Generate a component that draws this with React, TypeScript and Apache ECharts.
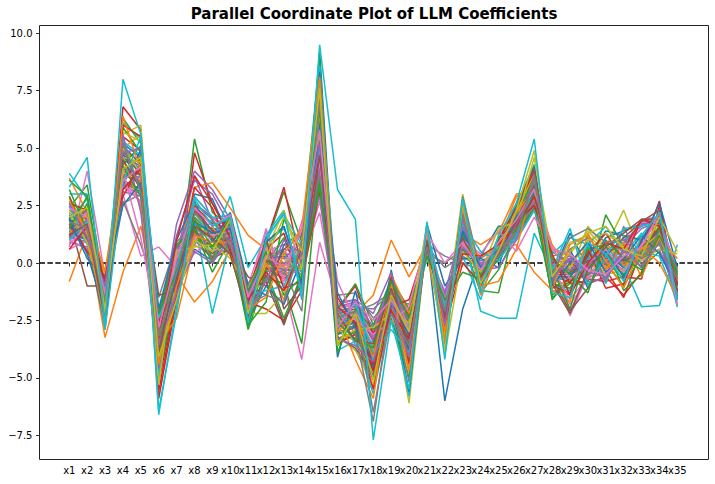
import { useEffect, useRef } from "react";
import * as echarts from "echarts";

const categories: string[] = [
  "x1", "x2", "x3", "x4", "x5", "x6", "x7", "x8", "x9", "x10",
  "x11", "x12", "x13", "x14", "x15", "x16", "x17", "x18", "x19", "x20",
  "x21", "x22", "x23", "x24", "x25", "x26", "x27", "x28", "x29", "x30",
  "x31", "x32", "x33", "x34", "x35",
];

const yMin = -7.5;
const yMax = 10;
const yStep = 2.5;

const palette = [
  "#1f77b4", "#ff7f0e", "#2ca02c", "#d62728", "#9467bd",
  "#8c564b", "#e377c2", "#7f7f7f", "#bcbd22", "#17becf",
];

// Each row: one model's coefficients for x1..x35
const coefRows: number[][] = [
  [2.2, 1.5, -2.1, 5.2, 4.6, -4.8, -0.8, 1.9, 1.3, 1.5, -2.0, 0.3, 0.5, -0.6, 9.2, -3.0, -2.8, -4.6, -1.6, -5.7, 1.2, -3.0, 1.8, -0.7, 0.7, 1.9, 3.6, -0.6, -0.8, 0.3, 0.4, -0.2, 0.7, 1.5, -0.9],
  [-0.8, 1.3, -3.25, -0.4, 1.6, -2.2, 0.2, 1.1, 0.7, 0.9, -1.4, -0.2, -0.4, 0.1, 3.9, -2.1, -1.9, -3.2, -1.0, -2.4, 0.7, -1.9, 0.9, -0.2, 0.4, 1.2, 2.6, -0.1, -0.1, -0.2, 0.0, 0.2, 0.4, 1.0, -0.4],
  [2.4, 3.4, -1.2, 6.3, 5.2, -4.2, -1.0, 5.4, 2.2, 1.6, -2.6, 0.8, 3.1, 0.9, 8.9, -3.6, -2.9, -4.8, -1.4, -3.8, 1.3, -2.9, 1.9, -1.2, -1.3, 1.9, 3.5, -1.6, -0.6, 0.7, 0.5, -0.5, 0.6, 1.4, -1.3],
  [1.8, 2.0, -2.2, 6.8, 5.8, -5.9, -1.6, 4.8, 2.6, 1.3, -1.8, 0.9, 3.3, -0.2, 8.0, -3.3, -3.0, -5.4, -1.9, -4.1, 1.5, -3.6, 2.8, -1.0, 0.3, 2.3, 3.9, -0.8, -1.4, 0.5, -0.3, -1.5, 0.6, 2.7, -1.5],
  [1.4, 1.1, -1.4, 4.0, 3.7, -3.0, 1.7, 4.0, 3.2, 1.9, -1.5, 0.2, -0.5, -0.2, 4.6, -2.6, -2.4, -4.0, -1.3, -2.9, 1.0, -2.4, 1.5, -0.5, 0.6, 1.7, 3.2, -0.4, -0.2, 0.1, 0.4, 0.8, 1.8, 1.9, -0.8],
  [1.9, -1.0, -1.0, 3.6, 3.2, -2.5, 0.6, 1.3, 0.4, 1.1, -1.2, -0.8, -2.7, -0.4, 4.2, -2.2, -2.0, -3.4, -1.1, -2.6, 0.8, -2.0, 0.8, -0.2, 0.4, 1.4, 2.8, -0.2, -0.5, -0.1, 0.2, 0.1, 0.3, 1.0, -0.5],
  [0.7, 4.0, -0.6, 3.0, 0.3, 0.7, -0.2, 1.0, 0.8, 1.0, -1.3, 0.2, 0.5, 0.0, 3.4, -2.0, -1.8, -2.9, -0.9, -2.2, 0.6, -1.6, 0.7, -0.1, 0.3, 1.1, 2.5, 0.0, -2.3, -0.5, 0.3, 0.6, 1.9, 2.0, -0.6],
  [1.2, 0.9, -0.3, 2.7, 0.8, -1.5, 0.9, 1.8, 1.5, 1.3, -0.9, -0.1, -0.5, 0.7, 3.2, -1.4, -1.3, -2.4, -1.5, -1.8, 0.4, 0.0, 0.6, 0.2, 0.7, 1.3, 2.4, 0.3, 0.5, -0.6, -0.4, 0.2, 0.9, 1.1, -1.9],
  [2.8, 1.9, -1.8, 5.6, 6.0, -4.0, -0.6, 2.1, 1.8, 1.4, -2.1, 0.4, 0.2, -0.7, 7.0, -2.9, -2.6, -4.4, -1.7, -6.1, 1.1, -2.7, 3.0, -0.8, 0.8, 1.8, 3.7, -0.7, -0.4, 1.6, 0.7, 2.3, 0.3, 1.6, -1.1],
  [3.9, 2.8, -2.9, 6.1, 5.4, -6.6, -1.9, 2.6, 1.9, 2.1, -2.8, 0.7, 1.6, -1.0, 8.6, -3.8, -3.4, -5.7, -2.0, -5.8, 1.6, -3.9, 2.4, -1.1, 1.0, 2.5, 4.3, -1.0, -1.2, 0.6, 0.5, -0.6, 1.1, 2.0, -1.4],
  [1.5, 1.2, -1.9, 4.7, 4.2, -3.8, -0.4, 3.0, 2.8, 1.0, -1.6, -0.3, -0.2, -0.5, 5.5, -2.7, -2.5, -4.1, -1.2, -3.3, 1.0, -6.0, -2.0, 0.3, 1.6, 1.6, 3.1, -0.5, 1.3, -0.2, 1.1, 1.4, 1.7, 1.8, -1.0],
  [3.7, 2.2, -2.4, 4.9, 4.4, -4.5, -0.5, -1.7, -0.8, 0.6, -1.9, 0.1, -0.6, 0.2, 6.3, -3.1, -2.7, -4.9, -1.5, -3.5, 1.2, -2.6, 1.6, -0.6, 0.9, 2.9, 3.3, -0.3, 0.2, 0.5, -0.2, -0.3, 0.8, 1.3, -0.7],
  [1.1, 2.6, -1.3, 3.9, 3.5, -2.8, -0.1, 1.4, 0.6, 0.9, -2.9, -0.6, -0.9, -3.5, 4.4, -2.4, -2.2, -3.6, -1.0, -2.7, 0.7, -2.2, 1.0, -1.3, -0.3, 1.3, 2.9, -1.5, -0.9, -0.8, 2.1, 0.7, -0.2, 0.5, -0.8],
  [2.0, 1.7, -2.6, 5.5, 4.9, -5.2, -1.3, 2.4, 1.4, 1.7, -1.7, -2.0, -2.5, -1.2, 7.5, -3.5, -3.1, -5.1, -2.1, -4.3, 1.3, -3.1, 2.6, -0.9, 0.2, 2.1, 3.8, -1.1, -0.7, -0.9, -0.6, -1.4, -0.4, 2.5, -1.2],
  [1.6, 1.4, -1.1, 3.4, 3.0, -2.4, 1.2, 3.6, 3.0, 1.6, -1.1, 0.5, 0.8, 0.3, 3.8, -1.9, -1.7, -3.1, -0.8, -2.3, 0.6, -1.5, 0.5, 0.1, 0.4, 1.2, 2.6, 0.1, 0.2, -0.3, 0.6, 0.9, 1.7, 1.9, -0.3],
  [1.3, 1.0, -1.5, 4.1, 3.9, -3.3, -0.2, 1.2, 0.9, 1.2, -1.8, 0.0, -0.3, -0.3, 5.1, -2.6, -2.4, -3.9, -1.2, -3.1, 0.9, -2.3, 1.1, -0.4, 0.5, 1.5, 3.0, -0.3, -0.3, 0.0, 0.1, 0.0, 0.4, 1.2, -0.6],
  [1.0, 0.6, -2.3, 3.3, 2.7, -2.0, -0.9, 0.8, 0.3, 0.7, -1.0, 1.4, -1.0, -4.2, 0.9, -1.7, -1.6, -3.0, -1.4, -2.0, 0.3, -1.2, 0.2, 0.0, 0.3, 1.0, 2.3, 0.2, -2.1, -0.4, -0.3, 0.3, 0.1, 1.5, -0.3],
  [1.8, 1.3, -1.7, 2.6, 3.0, -3.1, -0.7, 2.0, 1.2, 0.9, -1.6, -0.4, -0.1, 0.5, 4.8, -2.3, -2.1, -1.8, -1.3, -2.5, 0.8, 0.3, 0.0, -0.3, 0.6, 1.5, 3.0, 0.6, 0.3, -0.2, 0.2, 0.5, 0.3, 1.3, -1.6],
  [2.5, 1.8, -0.5, 5.0, 5.6, -3.0, 0.3, 1.7, 1.1, 1.8, -2.2, -2.2, -1.3, 0.6, 6.0, -3.0, -3.4, -3.8, -2.5, -3.2, 1.0, -2.5, 1.4, -0.5, 0.9, 1.9, 3.4, -0.5, 0.9, 1.2, 0.5, -0.4, 0.2, 1.0, -0.9],
  [3.0, 3.0, -1.9, 5.3, 4.7, -4.6, -0.7, 2.2, 1.0, 2.9, -0.2, 1.1, 2.1, 0.8, 6.5, -2.8, -2.5, -4.3, -1.6, -3.6, 1.2, -3.0, 2.0, -0.5, 1.1, 2.0, 3.5, -0.8, -0.6, 0.8, 1.6, 0.4, 1.3, 0.8, -0.7],
  [2.1, 1.6, -2.0, 4.6, 4.1, -4.3, -0.5, 1.6, 1.5, 1.4, -1.9, 0.2, 0.3, -0.4, 8.3, -2.8, -2.6, -4.4, -1.4, -3.4, 1.1, -2.6, 1.5, -0.6, 0.6, 1.7, 3.3, -0.5, -0.5, 0.2, 0.3, -0.1, 0.6, 1.4, -0.8],
  [2.7, 2.1, -1.4, 4.4, 3.4, -3.6, 0.0, 3.3, 3.5, 2.4, 1.2, 0.6, 0.0, 0.4, 5.3, -2.7, -2.3, -4.0, -1.0, -3.0, 0.9, -2.4, 1.3, 0.8, 1.3, 3.0, 3.1, 0.8, -0.3, -0.6, -0.5, 0.3, 0.2, 1.2, -0.5],
  [3.6, 2.9, -2.3, 5.9, 4.8, -5.0, -1.1, 2.0, 0.2, 1.9, -2.3, 0.0, 1.1, -0.9, 7.4, -3.3, -3.0, -5.0, -1.8, -4.0, 1.3, -3.3, 2.1, -0.8, 0.8, 2.1, 3.7, -0.9, -1.1, 0.3, 0.1, -0.7, 0.5, 1.6, -1.2],
  [1.2, 2.4, -0.9, 3.8, 3.6, -2.6, 0.1, 1.0, 0.2, 0.6, -1.3, -0.2, -0.7, 0.0, 4.0, -2.0, -1.0, -3.1, -1.1, -2.3, 0.6, -1.8, 0.9, -0.2, 0.3, 1.3, 2.7, 0.0, 0.1, -0.7, -0.8, -0.6, -0.7, 2.2, -1.0],
  [0.9, 0.7, -1.2, 3.1, 2.9, -2.1, 0.5, 2.6, 2.0, 1.2, -0.9, 0.3, 0.6, 0.5, 3.5, -1.8, -1.6, -2.8, -0.7, -2.1, 0.5, -1.4, 0.6, 0.0, 0.3, 1.1, 2.4, 0.1, 0.0, 0.2, 0.5, 0.7, 1.5, 1.8, -0.4],
  [2.3, 1.9, -1.3, 5.1, 4.3, -4.1, -0.6, 1.7, 1.0, 1.5, -2.2, -0.5, -2.6, -0.7, 6.2, -3.1, -2.8, -4.5, -1.5, -3.7, 1.1, -2.8, 1.7, -0.7, 0.7, 1.9, 3.5, -0.6, -0.6, 0.4, 0.2, -0.3, 0.6, 1.5, -0.9],
  [1.5, 2.2, -2.7, 3.7, 2.6, -2.7, -1.5, 1.1, 0.5, 0.9, -1.5, 1.5, -0.8, -0.1, 2.7, -1.9, -1.8, -3.3, -1.0, -2.4, 0.6, -1.9, 0.8, -0.3, 0.5, 1.4, 2.8, -0.2, -1.8, -0.7, -0.1, 0.4, 1.8, 1.7, -0.5],
  [1.7, 1.4, -0.8, 4.2, 3.8, -3.4, -0.3, 1.5, 1.1, 1.2, -1.6, 0.1, 0.0, -0.2, 4.9, -2.5, -2.3, -3.7, -1.2, -3.0, 0.9, -2.2, 1.2, -0.4, 0.5, 1.6, 3.1, -0.3, -0.3, 0.0, 0.1, 0.0, 0.5, 1.2, -0.6],
  [2.9, 1.3, -2.0, 5.7, 5.3, -3.1, -0.9, 2.2, 1.2, 1.0, -1.9, 0.3, 0.4, -0.6, 6.6, -3.2, -3.8, -5.3, -1.9, -4.6, 1.4, -3.2, 2.5, -0.8, 0.8, 2.2, 3.9, -0.8, -0.9, 0.4, -0.5, -0.3, 0.8, 1.7, -1.1],
  [1.9, 2.8, -1.6, 4.5, 4.0, -3.9, -0.3, 1.8, -2.2, 1.0, -1.4, 0.9, 1.5, -0.4, 5.6, -2.6, -2.4, -4.2, -1.3, -3.3, 1.0, -2.6, 1.5, -2.1, -2.4, -2.4, 1.3, -0.4, -0.4, 0.1, 0.7, -0.1, -1.9, -1.85, 0.8],
  [1.4, 1.0, -2.8, 4.8, 3.3, -4.4, -0.9, 0.6, 0.1, 1.3, -2.5, -1.0, -1.8, 0.2, 5.8, -3.1, -2.7, -4.7, -1.6, -5.6, 1.1, -3.0, 1.3, -0.7, 0.5, 1.8, 3.4, -0.6, -0.6, 0.3, 1.4, 1.2, 1.0, 1.9, -1.0],
  [2.3, 1.7, -1.7, 4.0, 3.6, -3.3, -0.2, 1.3, 1.2, 0.9, -1.5, 0.2, -0.1, -0.2, 4.5, -2.4, -2.2, -1.4, 1.0, -0.6, 0.8, -1.9, 0.9, 0.3, 0.6, 0.8, -0.4, -1.2, -1.3, -0.2, 0.9, -0.1, 0.5, 1.1, -0.6],
  [1.6, 1.2, -1.0, 3.5, 3.1, -2.3, 0.7, 1.6, 0.0, 1.7, -2.7, -0.3, -2.4, -0.6, 3.6, -2.0, -0.9, -2.7, -0.7, -2.0, 0.5, -1.6, 0.6, -0.5, 0.1, 1.2, 2.4, -1.4, -0.8, -0.5, 0.0, -1.0, 0.3, 0.9, -0.7],
  [2.6, 2.3, -2.5, 6.0, 5.5, -5.6, -1.4, 2.5, 1.7, 1.8, -1.6, 0.6, 1.3, -1.1, 7.9, -3.5, -3.1, -5.5, -2.0, -4.4, 1.5, -3.5, 2.7, -1.0, 1.0, 2.4, 4.0, -1.0, -1.3, 0.6, -1.1, -0.9, 1.0, 2.1, -1.3],
  [1.1, 0.9, -0.9, 3.2, 3.8, -2.9, 0.3, 3.8, 1.8, 1.0, -1.2, 0.0, -0.3, 0.1, 4.1, -2.1, -1.9, -3.3, -0.9, -2.5, 0.7, -1.7, 0.7, -0.1, 0.4, 1.3, 2.7, -0.1, -0.2, -0.2, 0.8, 1.0, 1.6, 2.0, -0.5],
  [1.9, 1.5, -1.8, 4.4, 4.5, -3.7, -0.4, 1.4, 0.7, 1.1, -1.8, 0.1, -0.2, -0.3, 5.4, -2.7, -2.5, -4.0, -1.3, -3.2, 1.0, -2.4, 1.2, -0.5, 0.6, 1.6, 3.2, -0.4, -0.4, 0.1, 0.1, 0.1, 0.5, 1.3, -0.7],
  [0.6, 1.0, -2.0, 3.5, 2.6, -3.2, -0.6, 2.9, 2.0, 1.5, -1.4, 0.5, 0.8, 0.2, 2.2, -2.3, -2.1, -3.6, -1.1, -2.8, 0.8, -2.0, 1.0, -0.3, 0.5, 1.5, 2.9, -0.2, -1.6, -0.6, 0.1, 0.5, 1.8, 1.9, -0.4],
  [1.4, 1.1, -1.2, 3.4, 3.3, -2.4, -0.5, 2.2, 1.3, 1.8, -1.3, -0.1, 0.0, 0.3, 3.9, -2.1, -1.9, -2.0, -1.3, -2.4, 0.7, -0.2, 0.3, -0.2, 0.5, 1.3, 2.6, 0.5, 0.0, -0.1, 0.0, 0.2, 0.4, 1.0, -1.5],
  [2.0, 1.6, -1.5, 4.6, 4.4, -3.1, -1.0, 1.9, 1.1, 1.2, -2.0, -0.1, -0.2, -0.3, 5.7, -2.9, -3.3, -4.8, -1.7, -4.8, 1.1, -2.9, 1.8, -0.6, 0.7, 1.7, 3.4, -0.6, 0.4, 1.4, 0.6, 0.4, 0.6, 1.3, -0.8],
  [2.5, 0.8, -1.1, 5.5, 3.0, -4.9, 0.4, 0.8, 1.9, 0.4, -2.3, 1.2, 2.3, -1.6, 7.7, -1.8, -3.6, -3.4, -2.3, -2.8, 0.2, -2.1, 0.3, -1.6, 0.9, 1.0, 2.3, 0.4, 1.1, 0.8, -0.9, 1.2, 0.5, 0.3, -1.7],
  [2.0, 0.4, -2.2, 3.4, 4.9, -2.0, 1.0, 2.7, 0.9, 2.2, -1.0, -1.4, 0.8, 1.3, 5.0, -4.1, -1.2, -4.6, -0.3, -3.9, 1.7, -1.0, 0.2, 0.2, -0.2, 2.4, 4.2, -0.8, 0.6, -1.1, 0.5, -0.6, 0.9, 2.6, -0.2],
  [1.3, 2.1, -0.4, 4.6, 2.4, -3.5, -2.4, 0.9, 1.6, 0.3, -1.9, 0.0, -1.6, 1.0, 5.9, -2.2, -4.2, -5.9, -0.5, -2.2, 0.4, -3.4, 2.0, -1.0, -0.8, 0.6, 3.6, -1.2, -1.7, 1.3, -0.3, 0.9, -0.6, 1.1, 0.2],
  [3.2, 1.4, -1.0, 4.3, 5.1, -3.9, 0.8, 1.5, -0.4, 1.0, -2.7, -1.7, 1.9, 0.6, 6.7, -3.9, -2.0, -2.9, -2.4, -5.0, 0.8, -2.0, 1.2, -0.5, 0.2, 1.5, 3.0, -0.2, -2.0, 0.6, 0.8, -1.2, -0.5, 1.5, -0.5],
  [1.7, 0.5, -0.6, 2.9, 4.3, -2.6, -0.9, 3.3, 2.4, 0.5, -1.2, 1.0, -1.1, -0.8, 3.1, -1.5, -2.7, -4.4, -1.9, -1.6, 0.9, -2.8, 0.0, -0.9, 1.1, 1.8, 2.5, 0.3, -0.9, 0.4, 1.3, 0.1, 1.9, 1.7, -0.9],
  [1.1, 1.9, -2.4, 5.6, 2.2, -4.6, 0.0, 1.2, 1.3, 1.6, -1.5, 0.4, 0.2, 0.9, 2.9, -2.9, -1.6, -2.2, -0.4, -3.5, 0.6, -1.3, 1.6, -0.3, -0.2, 1.0, 3.9, 0.1, 0.3, -0.8, -0.7, 0.5, 0.2, 0.6, -1.4],
  [2.9, 1.0, -1.9, 4.9, 3.8, -1.4, -1.2, 2.3, 1.4, 0.7, -0.6, -1.0, 0.6, 1.2, 5.2, -3.2, -3.7, -4.9, -0.6, -4.2, 1.4, -2.4, 2.2, -0.8, 0.4, 2.6, 4.1, -0.7, -2.1, -1.1, 0.3, 1.1, 1.8, 2.3, -1.6],
  [0.8, 1.7, -1.3, 4.0, 1.1, -3.0, 0.6, 0.4, 1.2, 1.4, -2.0, 0.7, -0.7, 1.8, 4.3, -0.8, -2.5, -3.1, -2.6, -1.9, 1.2, -1.6, 1.0, 0.4, 1.4, 0.5, 2.0, 0.7, -0.7, 0.0, 0.6, -0.4, 0.8, 2.0, -1.1],
  [1.6, 2.3, -2.1, 3.7, 4.7, -2.9, -1.7, 1.9, 0.1, 1.6, -2.4, -0.7, -0.3, -2.1, 7.1, -2.0, -3.1, -6.9, -1.5, -5.2, 0.9, -3.7, 2.9, -0.4, 0.3, 1.4, 3.8, -0.9, 0.6, 1.1, -0.8, 1.6, -0.1, 1.4, -0.3],
  [2.2, 0.9, -2.2, 5.0, 3.9, -5.3, 0.5, 0.7, 0.8, 0.2, -1.1, 0.5, 2.3, -0.3, 6.0, -3.4, -2.9, -2.8, -2.2, -2.6, 1.0, -4.0, 0.5, -0.4, 1.5, 1.8, 4.6, 0.2, -0.2, 1.0, 1.3, 0.7, 0.1, 0.6, 0.4],
  [1.0, 1.8, -2.9, 3.5, 5.5, -2.4, -0.2, 2.9, 2.0, 1.9, -1.4, -1.2, -1.0, 0.8, 4.9, -2.5, -1.8, -3.9, -2.9, -3.9, 1.5, -1.9, 1.7, 0.5, 0.1, 1.2, 3.3, -0.3, 1.5, -1.0, 0.3, 1.5, 1.6, 1.8, -1.9],
  [1.9, 0.2, -0.7, 2.5, 3.5, -3.8, -0.6, 1.8, 1.3, 1.5, -1.7, 0.9, 1.6, -0.9, 6.0, -1.3, -2.8, -5.0, -1.8, -3.1, 0.6, -2.2, 1.4, -0.2, 0.6, 2.0, 3.1, -1.0, 0.0, 0.9, -0.4, 0.2, 1.2, 0.4, -1.0],
  [2.7, 1.3, -2.6, 6.4, 4.0, -4.4, -1.0, 1.2, 0.9, 0.9, -2.0, -1.5, 0.4, 1.5, 8.1, -3.0, -2.3, -4.1, -0.9, -4.7, 1.1, -3.0, 2.4, -1.4, 0.5, 2.2, 3.2, -1.1, 0.8, 1.2, 0.1, -1.1, 0.7, 0.0, -1.5],
  [1.5, 2.9, -1.6, 4.2, 2.9, -2.2, -0.4, 1.9, 0.7, 2.0, -1.2, 0.5, -1.4, -0.6, 3.3, -2.6, -3.3, -3.7, -0.8, -2.4, 0.3, -1.6, -0.4, -0.7, 1.1, 1.4, 2.9, 0.2, -0.5, -1.3, 1.0, 0.2, -0.3, 1.2, -0.4],
  [0.6, 1.6, -0.8, 3.2, 4.1, -3.3, 1.0, 3.8, 2.6, 1.1, -1.6, -0.4, -1.2, 0.6, 4.7, -1.9, -2.6, -4.7, -2.1, -3.3, 0.8, -2.6, 0.4, 0.3, 0.8, 1.6, 2.9, 0.4, -1.4, 0.0, 0.9, 0.6, 1.9, 1.6, -0.9],
  [2.6, 1.1, -1.0, 4.8, 5.0, -3.6, -1.3, 0.5, 0.0, 1.1, -2.1, -0.8, 1.0, 0.4, 5.2, -3.3, -3.6, -4.3, -1.7, -4.1, 1.5, -2.7, 1.9, -0.7, 0.3, 1.7, 3.5, -0.7, 0.2, -0.4, -0.6, 0.6, -0.2, 0.9, -1.3],
  [1.2, 1.7, -2.5, 4.5, 3.2, -3.9, -0.3, 1.6, 1.1, 0.4, -2.4, 1.1, -2.0, -1.0, 4.7, -2.2, -3.4, -3.5, -1.1, -3.6, 1.0, -2.2, 1.1, -0.6, 0.4, 1.8, 3.4, -0.9, -2.2, -0.3, 0.7, 1.3, 1.9, 1.9, -1.2],
  [2.4, 2.0, -1.4, 3.6, 4.2, -2.8, 0.2, 2.4, 1.6, 2.1, -1.5, 0.3, -0.2, 1.4, 5.8, -2.8, -1.7, -2.5, -1.6, -2.9, 1.3, 0.0, 0.9, -0.3, 0.9, 1.9, 3.2, 0.6, 0.4, -0.3, -0.5, 0.3, 0.7, 2.2, -1.8],
  [1.8, 1.5, -1.6, 5.2, 3.1, -3.2, -0.4, 2.6, 1.9, 0.8, -1.8, -1.4, -1.7, 0.9, 7.3, -2.4, -2.1, -6.5, -2.2, -3.6, 0.7, -2.1, 2.1, -0.8, 0.6, 1.3, 3.6, -0.5, 1.1, 1.5, 0.9, 1.0, 0.3, 0.8, -0.7],
  [2.0, 2.4, -2.0, 4.1, 4.6, -4.1, -1.6, 1.0, 0.5, 1.9, -2.2, 0.2, 2.0, 0.5, 7.6, -3.6, -2.2, -5.1, -1.4, -3.0, 1.7, -3.8, 2.6, -0.9, 0.5, 2.3, 4.9, -0.6, 0.5, 1.3, 1.6, 0.6, 0.3, 2.0, 0.5],
  [3.3, 4.6, -2.7, 8.0, 5.6, -6.4, -2.2, 2.8, 1.6, 2.0, -2.6, 1.0, 2.2, -1.3, 9.5, 3.2, 1.9, -7.7, -2.5, -5.5, 1.8, -4.2, 2.8, -1.3, 1.2, 2.6, 5.4, -1.3, -1.5, 0.9, 0.4, -0.8, 1.2, 2.2, -1.6],
];

const FONT = "DejaVu Sans";
const frame = { left: 39.5, top: 25.5, right: 708.5, bottom: 459.5 };

export default function App() {
  const ref = useRef<HTMLDivElement>(null);

  useEffect(() => {
    document.body.style.margin = "0";
    if (!ref.current) return;
    const chart = echarts.init(ref.current, null, { renderer: "svg" });

    const gridLeft = 69.3;
    const gridRight = 715 - 677.3;
    const gridTop = 33.3;
    const gridBottom = 484 - 435.3;

    chart.setOption({
      animation: false,
      grid: { left: gridLeft, right: gridRight, top: gridTop, bottom: gridBottom },
      xAxis: {
        type: "category",
        data: categories,
        boundaryGap: false,
        offset: frame.bottom - (484 - gridBottom),
        axisLine: { show: false },
        axisTick: { show: true, interval: 0, length: 3.5, lineStyle: { color: "#000", width: 0.8 } },
        axisLabel: { interval: 0, margin: 6, fontFamily: FONT, fontSize: 10, color: "#000" },
        splitLine: { show: false },
      },
      yAxis: {
        type: "value",
        min: yMin,
        max: yMax,
        interval: yStep,
        offset: gridLeft - frame.left,
        axisLine: { show: false },
        axisTick: { show: true, length: 3.5, lineStyle: { color: "#000", width: 0.8 } },
        axisLabel: {
          margin: 7,
          fontFamily: FONT,
          fontSize: 10,
          color: "#000",
          formatter: (v: number) => v.toFixed(1).replace("-", "\u2212"),
        },
        splitLine: { show: false },
      },
      series: coefRows.map((row, i) => ({
        type: "line",
        data: row,
        showSymbol: false,
        symbol: "none",
        clip: false,
        silent: true,
        lineStyle: { width: 1.5, color: palette[i % palette.length] },
        itemStyle: { color: palette[i % palette.length] },
      })),
    });

    const y0 = chart.convertToPixel({ yAxisIndex: 0 }, 0) as number;

    chart.setOption({
      graphic: [
        {
          type: "line",
          z: 0,
          silent: true,
          shape: { x1: frame.left, y1: y0, x2: frame.right, y2: y0 },
          style: { stroke: "#000", lineWidth: 1.5, lineDash: [5.5, 2.4] },
        },
        {
          type: "rect",
          z: 100,
          silent: true,
          shape: {
            x: frame.left,
            y: frame.top,
            width: frame.right - frame.left,
            height: frame.bottom - frame.top,
          },
          style: { fill: "none", stroke: "#222", lineWidth: 1 },
        },
        {
          type: "text",
          z: 100,
          x: (frame.left + frame.right) / 2,
          y: 14,
          style: {
            text: "Parallel Coordinate Plot of LLM Coefficients",
            fontFamily: FONT,
            fontWeight: "bold",
            fontSize: 15,
            fill: "#000",
            textAlign: "center",
            textVerticalAlign: "middle",
          },
        },
      ],
    });

    return () => chart.dispose();
  }, []);

  return <div ref={ref} style={{ width: 715, height: 484 }} />;
}
